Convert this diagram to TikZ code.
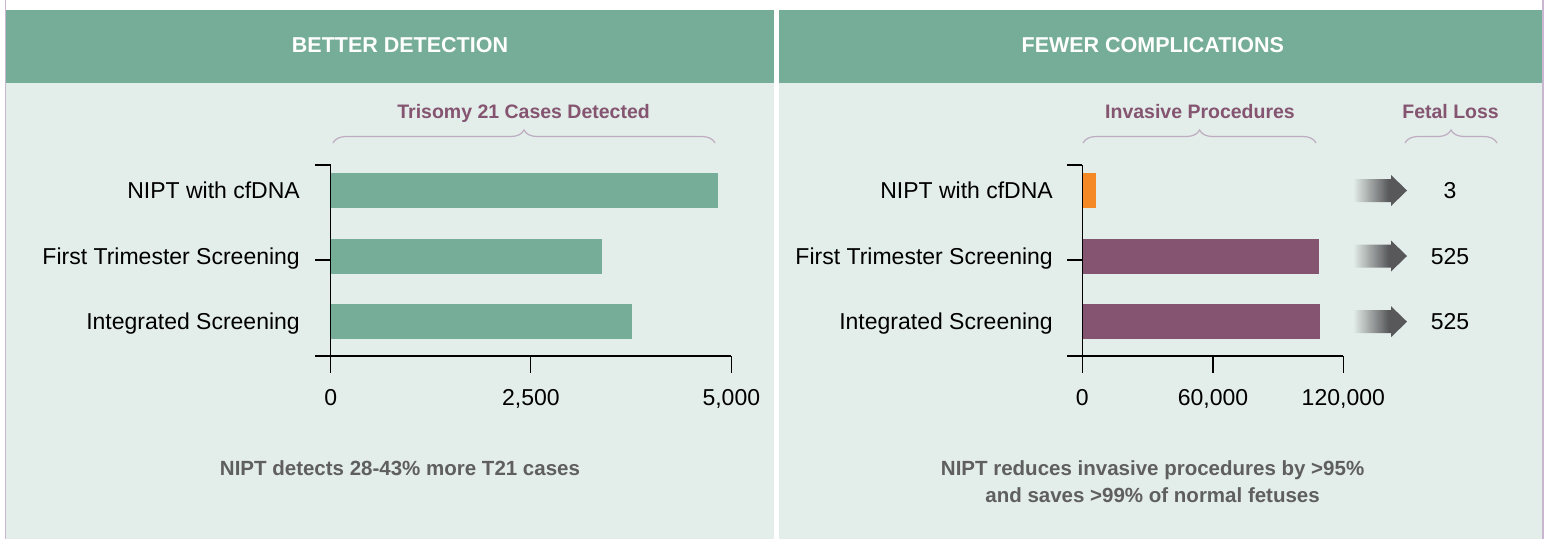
\documentclass[tikz,border=0pt]{standalone}
\usepackage{fontspec}
\setmainfont{Liberation Sans}
\usetikzlibrary{decorations.pathreplacing}

\definecolor{headgreen}{RGB}{118,173,152}
\definecolor{panelbg}{RGB}{227,237,233}
\definecolor{edgelilac}{RGB}{201,182,208}
\definecolor{plum}{RGB}{132,84,112}
\definecolor{niptorange}{RGB}{245,137,37}
\definecolor{notegray}{RGB}{95,95,95}
\definecolor{bracegray}{RGB}{190,172,192}
\definecolor{arrowgray}{RGB}{88,88,90}

% fade for the fetal loss arrows, dark from about two thirds on
\pgfdeclarehorizontalshading{lossfade}{100bp}{color(0bp)=(panelbg); color(25bp)=(panelbg); color(58bp)=(arrowgray); color(100bp)=(arrowgray)}

\begin{document}
\begin{tikzpicture}[x=1pt,y=-1pt,
    every node/.style={inner sep=0pt,font=\fontsize{23}{28}\selectfont},
    header/.style={text=white,font=\fontsize{21.5}{26}\selectfont\bfseries},
    caption/.style={text=plum,font=\fontsize{19.5}{24}\selectfont\bfseries},
    note/.style={text=notegray,align=center,font=\fontsize{20.5}{27}\selectfont\bfseries},
    bracket/.style={bracegray,line width=1.2pt,decorate,decoration={brace,amplitude=13pt}},
    axis/.style={line width=1.1pt}]
        \useasboundingbox (0,0) rectangle (1544,539);

        % panels
        \fill[edgelilac] (5,0) rectangle (6.3,539);
        \fill[edgelilac] (1542,0) rectangle (1544,539);
        \fill[headgreen] (6.3,10) rectangle (774,83);
        \fill[panelbg] (6.3,83) rectangle (774,539);
        \fill[headgreen] (779,10) rectangle (1542,83);
        \fill[panelbg] (779,83) rectangle (1542,539);

        \node[header,anchor=base] (hleft) at (400,52.3) {BETTER DETECTION};
        \node[header,anchor=base] (hright) at (1152.8,52.3) {FEWER COMPLICATIONS};

        \node[caption,anchor=base] (cases) at (523.6,118) {Trisomy 21 Cases Detected};
        \node[caption,anchor=base] (invasive) at (1200,118) {Invasive Procedures};
        \node[caption,anchor=base] (loss) at (1450.6,118) {Fetal Loss};
        \draw[bracket] (333,143) -- (715,143);
        \draw[bracket] (1083,143) -- (1316,143);
        \draw[bracket] (1405,143) -- (1497,143);

        % row labels, same on both sides
        \foreach \name/\y [count=\i] in {NIPT with cfDNA/198.5, First Trimester Screening/264.5, Integrated Screening/329.5}{
            \node[anchor=base east] (lcat\i) at (300,\y) {\name};
            \node[anchor=base east] (rcat\i) at (1053,\y) {\name};
          }

        % detected cases
        \foreach \cases/\y in {4830/190.5, 3386/256.5, 3764/321.5}
            \fill[headgreen] (330.7,\y-17.5) rectangle ({330.7+\cases/5000*400.6},\y+17.5);
        \draw[axis] (315,165) -- (330.7,165) (315,260) -- (330.7,260);
        \draw[axis] (330.7,165) -- (330.7,373);
        \draw[axis] (315,356) -- (731.3,356);
        \foreach \x/\lab [count=\i] in {330.7/0, 530.9/{2,500}, 731.3/{5,000}}{
            \draw[axis] (\x,356) -- (\x,373);
            \node[anchor=base] (ltick\i) at (\x,405) {\lab};
          }

        % invasive procedures (thousands)
        \fill[niptorange] (1082.3,173) rectangle ({1082.3+6.4/120*261},208);
        \foreach \procs/\y in {108.6/256.5, 109.5/321.5}
            \fill[plum] (1082.3,\y-17.5) rectangle ({1082.3+\procs/120*261},\y+17.5);
        \draw[axis] (1067,165) -- (1082.3,165) (1067,260) -- (1082.3,260);
        \draw[axis] (1082.3,165) -- (1082.3,373);
        \draw[axis] (1067,356) -- (1343.3,356);
        \foreach \x/\lab [count=\i] in {1082.3/0, 1213/{60,000}, 1343.3/{120,000}}{
            \draw[axis] (\x,356) -- (\x,373);
            \node[anchor=base] (rtick\i) at (\x,405) {\lab};
          }

        % fetal loss
        \foreach \y/\lost [count=\i] in {190.5/3, 256/525, 321.7/525}{
            \shade[shading=lossfade] (1353,\y-11.5) -- (1391,\y-11.5) -- (1391,\y-15.5) -- (1407,\y)
                -- (1391,\y+15.5) -- (1391,\y+11.5) -- (1353,\y+11.5) -- cycle;
            \node[anchor=base] (lost\i) at (1450,\y+8) {\lost};
          }

        \node[note,anchor=base] (lnote) at (400,475) {NIPT detects 28-43\% more T21 cases};
        % a two line node sits on its last line
        \node[note,anchor=base] (rnote) at (1152.6,502) {NIPT reduces invasive procedures by >95\%\\and saves >99\% of normal fetuses};
\end{tikzpicture}
\end{document}
